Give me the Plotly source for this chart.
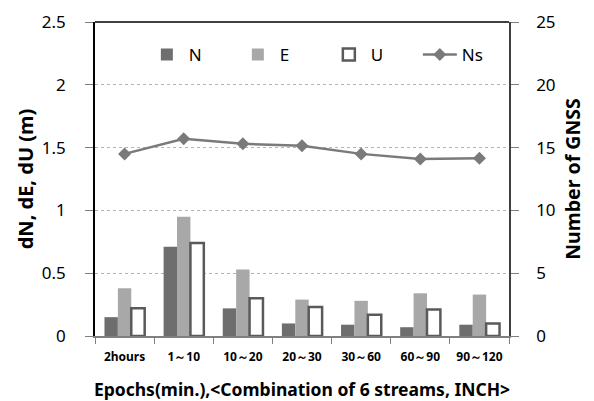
import plotly.graph_objects as go

categories = ["2hours", "1～10", "10～20", "20～30", "30～60", "60～90", "90～120"]
dN = [0.15, 0.71, 0.22, 0.10, 0.09, 0.07, 0.09]
dE = [0.38, 0.95, 0.53, 0.29, 0.28, 0.34, 0.33]
dU = [0.22, 0.74, 0.30, 0.23, 0.17, 0.21, 0.10]
ns = [14.5, 15.7, 15.3, 15.15, 14.5, 14.1, 14.15]

left_ticks = [0, 0.5, 1, 1.5, 2, 2.5]
left_labels = ["0", "0.5", "1", "1.5", "2", "2.5"]
right_ticks = [0, 5, 10, 15, 20, 25]

FONT = "Noto Sans"

fig = go.Figure()
fig.add_trace(go.Bar(x=categories, y=dN, name="N",
                     marker=dict(color="#6e6e6e", line=dict(width=0))))
fig.add_trace(go.Bar(x=categories, y=dE, name="E",
                     marker=dict(color="#a8a8a8", line=dict(width=0))))
fig.add_trace(go.Bar(x=categories, y=dU, name="U",
                     marker=dict(color="white", line=dict(color="#5a5a5a", width=2.5))))
fig.add_trace(go.Scatter(x=categories, y=ns, name="Ns", yaxis="y2",
                         mode="lines+markers",
                         line=dict(color="#7a7a7a", width=2.5),
                         marker=dict(symbol="diamond", size=10, color="#7a7a7a")))

fig.update_layout(
    width=594, height=401,
    margin=dict(l=95, r=85, t=22, b=65),
    paper_bgcolor="white", plot_bgcolor="white",
    barmode="group", bargap=0.32, bargroupgap=0,
    font=dict(family=FONT, color="black"),
    showlegend=True,
    legend=dict(orientation="h", x=0.56, xanchor="center", y=0.895, yanchor="middle",
                bgcolor="rgba(0,0,0,0)", font=dict(size=17, family=FONT),
                traceorder="normal", itemwidth=34,
                entrywidthmode="pixels", entrywidth=42),
    xaxis=dict(
        type="category", automargin=False,
        showline=True, linecolor="#808080", linewidth=1.5,
        mirror=False, ticks="outside", tickson="boundaries", ticklen=6,
        tickcolor="#808080", showgrid=False, ticklabelstandoff=9,
        tickfont=dict(size=12, family=FONT, weight="bold"),
        title=dict(text="Epochs(min.),<Combination of 6 streams, INCH>",
                   font=dict(size=17.5, family=FONT, weight="bold"), standoff=20),
    ),
    yaxis=dict(
        range=[0, 2.5], tickvals=left_ticks, ticktext=left_labels, automargin=False,
        showline=True, linecolor="black", linewidth=1.5, ticks="outside",
        ticklen=8, tickcolor="#808080", ticklabelstandoff=16,
        showgrid=True, gridcolor="#b4b4b4", griddash="dot", gridwidth=1,
        zeroline=False,
        tickfont=dict(size=17, family=FONT),
        title=dict(text="dN, dE, dU (m)",
                   font=dict(size=20, family=FONT, weight="bold"), standoff=3),
    ),
    yaxis2=dict(
        overlaying="y", side="right", range=[0, 25], tickvals=right_ticks,
        automargin=False,
        showline=True, linecolor="#404040", linewidth=1.5, ticks="outside",
        ticklen=8, tickcolor="#808080", ticklabelstandoff=14,
        showgrid=False, zeroline=False,
        tickfont=dict(size=17, family=FONT),
        title=dict(text="Number of GNSS",
                   font=dict(size=19.5, family=FONT, weight="bold"), standoff=12),
    ),
    shapes=[dict(type="line", xref="paper", yref="paper", x0=0, x1=1, y0=1, y1=1,
                 line=dict(color="black", width=1.5))],
)

fig.write_html("out.html")
